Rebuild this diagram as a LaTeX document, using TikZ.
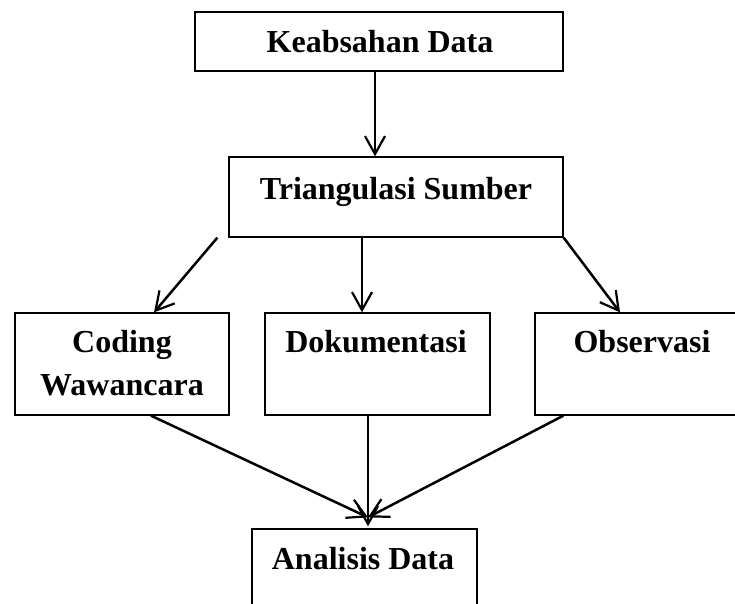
\documentclass[tikz,border=0pt]{standalone}
\usepackage{fontspec}
\setmainfont{Liberation Serif}
\usetikzlibrary{arrows.meta}
\tikzset{
  box/.style={draw, rectangle, line width=1.3pt, inner sep=0pt},
  lbl/.style={anchor=base, inner sep=0pt, font=\fontsize{32}{44}\selectfont\bfseries},
  arr/.style={line width=2.5pt, -{Straight Barb[length=18pt,width=20pt,line width=2.2pt]}},
}
\begin{document}
\begin{tikzpicture}[x=1pt,y=-1pt]
\clip (0,0) rectangle (735,604);
\fill[white] (0,0) rectangle (735,604);
% boxes
\node[box, minimum width=368pt, minimum height=59pt] (k) at (379,41.5) {};
\node[box, minimum width=334pt, minimum height=80pt] (t) at (396,197) {};
\node[box, minimum width=214pt, minimum height=102pt] (c) at (122,364) {};
\node[box, minimum width=225pt, minimum height=102pt] (d) at (377.5,364) {};
\node[box, minimum width=214pt, minimum height=102pt] (o) at (642,364) {};
\node[box, minimum width=225pt, minimum height=110pt] (a) at (364.5,584) {};
% labels
\node[lbl] (kl) at (380,53) {Keabsahan Data};
\node[lbl] (tl) at (396,199) {Triangulasi Sumber};
\node[lbl] (cl1) at (122,352) {Coding};
\node[lbl] (cl2) at (122,395) {Wawancara};
\node[lbl] (dl) at (376,352) {Dokumentasi};
\node[lbl] (ol) at (642,352) {Observasi};
\node[lbl] (al) at (363,569) {Analisis Data};
% connectors
\draw[arr] ([xshift=-4pt]k.south) -- ([xshift=-4pt]k.south |- t.north);
\draw[arr] ([xshift=-11pt]t.south west) -- ([xshift=32pt]c.north);
\draw[arr] ([xshift=-34pt]t.south) -- ([xshift=-34pt]t.south |- d.north);
\draw[arr] (t.south east) -- ([xshift=-22pt]o.north);
\draw[arr] ([xshift=29pt]c.south) -- ([xshift=3.5pt,yshift=11pt]a.north);
\draw[arr] ([xshift=-9.5pt]d.south) -- ([xshift=3.5pt,yshift=2pt]a.north);
\draw[arr] ([xshift=29pt]o.south west) -- ([xshift=3.5pt,yshift=11pt]a.north);
\end{tikzpicture}
\end{document}
